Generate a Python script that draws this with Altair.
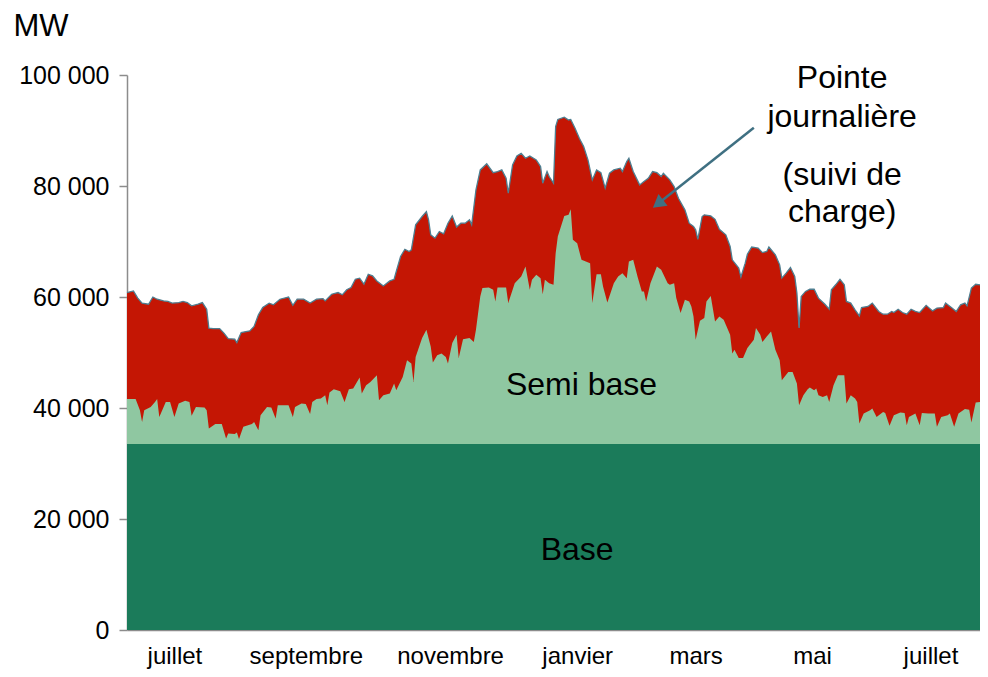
import altair as alt
import pandas as pd

FONT = "Liberation Sans"

# --- Pointe journalière (daily maximum), thousands of MW, by day index ---
pointe_jour = [0, 3, 5, 7, 10, 12, 14, 17, 19, 21, 24, 26, 28, 30, 33, 35, 37, 38, 40, 43,
               45, 47, 50, 51, 53, 57, 59, 61, 63, 66, 68, 71, 75, 77, 79, 82, 85, 88, 91, 92,
               95, 98, 100, 102, 104, 106, 108, 110, 112, 114, 116, 119, 122, 124, 125, 127, 129, 131, 132, 134,
               137, 139, 140, 141, 143, 145, 147, 149, 151, 153, 155, 157, 159, 160, 162, 164, 167, 170, 172, 174,
               176, 177, 179, 181, 183, 185, 187, 190, 192, 193, 195, 196, 198, 199, 200, 203, 205, 206, 208, 210,
               212, 214, 216, 218, 220, 222, 224, 226, 229, 230, 232, 233, 235, 238, 240, 242, 244, 246, 248, 249,
               252, 254, 256, 259, 261, 263, 264, 265, 267, 268, 271, 273, 275, 278, 280, 281, 284, 285, 287, 288,
               290, 293, 295, 297, 298, 301, 303, 304, 306, 308, 310, 311, 312, 313, 315, 317, 319, 321, 324, 326,
               327, 329, 331, 333, 334, 336, 338, 340, 341, 344, 346, 349, 351, 353, 355, 356, 358, 360, 362, 364,
               366, 368, 371, 374, 376, 379, 380, 383, 385, 387, 389, 390, 392, 394, 396]
pointe_kmw = [60.8, 61.1, 59.8, 58.9, 58.7, 60.0, 59.6, 59.3, 59.2, 58.9, 59.0, 59.2, 59.0, 58.4, 58.7, 59.0, 57.8, 54.4, 54.3, 54.3,
              53.5, 52.5, 52.4, 51.8, 53.6, 53.9, 54.7, 56.8, 58.1, 58.9, 58.6, 59.6, 60.0, 58.5, 59.6, 59.6, 58.9, 59.6, 59.7, 59.3,
              60.5, 60.8, 60.4, 61.3, 61.7, 63.2, 63.4, 62.3, 64.1, 63.8, 62.9, 62.0, 62.9, 63.2, 64.6, 67.3, 68.6, 68.2, 68.5, 73.0,
              74.5, 75.4, 73.9, 71.2, 70.6, 71.8, 71.4, 73.3, 74.6, 72.6, 73.3, 73.3, 73.9, 73.0, 79.3, 82.9, 84.0, 82.4, 82.6, 82.9,
              81.4, 78.7, 83.8, 85.4, 85.9, 85.0, 85.4, 84.7, 83.5, 80.5, 82.6, 81.7, 80.5, 90.7, 92.0, 92.4, 91.9, 92.0, 90.4, 88.6,
              87.1, 84.7, 81.1, 82.9, 82.4, 79.6, 82.3, 82.9, 83.2, 82.6, 84.4, 85.0, 82.6, 80.2, 80.8, 81.4, 82.6, 82.4, 81.7, 82.3,
              81.1, 79.9, 77.8, 75.7, 73.3, 72.7, 72.1, 70.4, 74.5, 74.8, 74.6, 74.0, 72.2, 71.2, 69.1, 66.7, 65.2, 63.6, 66.1, 67.7,
              69.0, 68.8, 68.0, 68.2, 69.0, 67.6, 65.8, 63.4, 64.3, 65.3, 63.7, 60.7, 54.4, 60.1, 61.0, 61.4, 61.4, 59.8, 58.7, 57.8,
              61.3, 62.2, 63.2, 62.2, 59.2, 58.9, 57.7, 56.6, 58.1, 58.3, 58.9, 57.4, 56.9, 56.9, 57.4, 57.2, 57.8, 57.2, 56.9, 57.8,
              57.4, 57.2, 58.5, 57.5, 58.0, 58.1, 58.9, 58.0, 57.4, 58.6, 58.9, 58.4, 61.6, 62.3, 62.2]

# --- Semi base (daily minimum), thousands of MW, by day index ---
semi_jour = [0, 4, 6, 7, 8, 11, 13, 14, 15, 18, 20, 22, 24, 27, 29, 30, 32, 36, 37, 38,
             41, 44, 46, 47, 50, 51, 52, 54, 58, 59, 61, 62, 65, 67, 69, 70, 75, 77, 78, 81,
             83, 85, 86, 88, 90, 92, 93, 94, 96, 99, 101, 103, 105, 108, 109, 111, 113, 116, 117, 119,
             122, 124, 125, 128, 130, 132, 133, 134, 137, 139, 141, 142, 144, 146, 148, 149, 151, 153, 154, 156,
             159, 161, 162, 164, 165, 168, 170, 171, 172, 174, 176, 177, 180, 183, 185, 187, 188, 190, 192, 193,
             194, 196, 198, 199, 200, 203, 205, 206, 207, 209, 211, 213, 215, 216, 218, 220, 221, 223, 226, 228,
             230, 232, 233, 235, 237, 239, 240, 241, 243, 246, 248, 251, 252, 254, 255, 257, 259, 261, 262, 263,
             264, 266, 268, 269, 271, 273, 275, 277, 278, 280, 281, 282, 284, 286, 288, 291, 292, 294, 295, 297,
             299, 301, 303, 304, 307, 309, 311, 312, 314, 316, 317, 319, 320, 321, 323, 325, 326, 328, 330, 333,
             334, 336, 338, 339, 340, 342, 345, 346, 348, 351, 352, 354, 356, 359, 361, 362, 363, 366, 368, 369,
             372, 375, 376, 378, 381, 382, 384, 386, 389, 391, 392, 394, 396]
semi_kmw = [41.6, 41.6, 39.6, 37.5, 39.6, 40.2, 41.1, 41.6, 38.4, 41.1, 41.1, 38.4, 40.8, 41.3, 41.1, 38.6, 40.2, 40.1, 39.6, 36.3,
            37.1, 37.1, 34.5, 35.4, 35.3, 35.6, 34.4, 36.6, 37.1, 37.5, 36.0, 38.7, 40.2, 40.1, 38.1, 40.5, 40.5, 38.4, 40.2, 40.8,
            40.7, 38.9, 41.1, 41.6, 41.7, 42.3, 40.5, 42.8, 43.4, 43.0, 41.1, 43.4, 43.5, 45.5, 42.6, 44.1, 44.7, 45.9, 41.4, 42.3,
            42.6, 44.4, 43.2, 45.6, 48.6, 48.0, 44.7, 49.2, 52.6, 54.1, 51.1, 48.2, 49.5, 49.8, 49.2, 48.0, 51.7, 53.2, 49.0, 52.4,
            52.6, 51.9, 54.1, 60.1, 61.6, 61.7, 61.3, 59.2, 61.7, 61.7, 61.7, 58.9, 62.5, 63.7, 65.5, 61.3, 63.1, 64.0, 63.4, 60.5,
            63.1, 62.5, 62.2, 67.9, 70.9, 74.6, 74.8, 75.8, 70.3, 69.7, 66.7, 66.4, 66.1, 58.9, 64.1, 64.1, 61.9, 59.0, 62.5, 63.7,
            64.3, 63.4, 66.4, 66.7, 63.7, 61.0, 61.0, 59.2, 62.5, 65.5, 64.9, 62.5, 62.2, 62.5, 59.8, 57.1, 59.5, 59.2, 58.3, 56.5,
            52.3, 55.7, 56.2, 59.2, 60.2, 55.6, 56.5, 55.9, 55.0, 53.2, 49.8, 50.5, 49.0, 49.0, 50.8, 52.3, 54.4, 53.2, 51.9, 52.9,
            53.8, 50.5, 48.6, 45.0, 46.5, 46.5, 44.4, 40.5, 42.3, 43.4, 43.7, 43.2, 43.5, 42.3, 42.0, 42.3, 41.1, 44.1, 45.9, 45.9,
            40.8, 42.3, 41.7, 41.1, 37.2, 39.0, 39.6, 39.9, 38.4, 39.3, 39.1, 36.8, 38.7, 39.2, 39.1, 36.9, 38.4, 39.0, 36.9, 39.1,
            39.0, 39.0, 36.6, 38.4, 38.7, 39.0, 36.6, 39.0, 39.8, 39.7, 37.4, 41.0, 41.1]

# --- Base (constant), MW ---
base_jour = [0, 396]
base_mw = [33500, 33500]

# --- Axis labels ---
mois_pos = [22, 83, 150, 209, 264, 318, 373]
mois_lab = ["juillet", "septembre", "novembre", "janvier", "mars", "mai", "juillet"]
y_ticks = [0, 20000, 40000, 60000, 80000, 100000]

# --- Annotations ---
notes_txt = ["Pointe", "journalière", "(suivi de", "charge)", "Semi base", "Base"]
notes_jour = [332, 332, 332, 332, 211, 209]
notes_mw = [99400, 92400, 82000, 75300, 44100, 14400]
fleche_jour = [291, 246.5]
fleche_mw = [90500, 76800]

pointe = pd.DataFrame({"jour": pointe_jour, "mw": [v * 1000 for v in pointe_kmw]})
semi = pd.DataFrame({"jour": semi_jour, "mw": [v * 1000 for v in semi_kmw]})
base = pd.DataFrame({"jour": base_jour, "mw": base_mw})
notes = pd.DataFrame({"jour": notes_jour, "mw": notes_mw, "txt": notes_txt})
fleche = pd.DataFrame({"jour": fleche_jour, "mw": fleche_mw})
pointe_fleche = fleche.iloc[[1]]

x_label_expr = " : ".join(
    f"datum.value == {p} ? '{l}'" for p, l in zip(mois_pos, mois_lab)
) + " : ''"

x_enc = alt.X(
    "jour:Q",
    scale=alt.Scale(domain=[0, 396], nice=False, zero=False),
    axis=alt.Axis(values=mois_pos, labelExpr=x_label_expr, ticks=False, grid=False,
                  domainColor="#8c8c8c", domainWidth=1.5, labelFontSize=24, labelFont=FONT,
                  labelColor="#000000", labelPadding=14, title=None, labelFlush=False),
)
y_enc = alt.Y(
    "mw:Q",
    scale=alt.Scale(domain=[0, 100000], nice=False),
    axis=alt.Axis(values=y_ticks,
                  labelExpr="datum.value == 0 ? '0' : format(datum.value / 1000, 'd') + ' 000'",
                  tickSize=8, tickColor="#8c8c8c", tickWidth=1.5, domainColor="#8c8c8c",
                  domainWidth=1.5, grid=False, labelFontSize=25, labelFont=FONT,
                  labelColor="#000000", labelPadding=10,
                  title="MW", titleAngle=0, titleAlign="left", titleBaseline="middle",
                  titleX=-114, titleY=-49, titleFontSize=31, titleFont=FONT,
                  titleFontWeight="normal", titleColor="#000000"),
)

red = alt.Chart(pointe).mark_area(color="#C41604", opacity=1)
edge = alt.Chart(pointe).mark_line(color="#4E7E90", strokeWidth=1.3)
green = alt.Chart(semi).mark_area(color="#8FC7A1", opacity=1)
dark = alt.Chart(base).mark_area(color="#1B7B5A", opacity=1)
text = alt.Chart(notes).mark_text(fontSize=32, font=FONT, color="#000000", align="center",
                                  baseline="middle").encode(text="txt:N")
shaft = alt.Chart(fleche).mark_line(color="#3F7082", strokeWidth=2.5)
head = alt.Chart(pointe_fleche).mark_point(shape="triangle-up", filled=True, color="#3F7082",
                                           opacity=1, size=220, angle=232)

chart = alt.layer(red, edge, green, dark, text, shaft, head).encode(
    x=x_enc, y=y_enc
).properties(
    width=853, height=555,
    autosize=alt.AutoSizeParams(type="none"),
    padding={"left": 119, "top": 67, "right": 0, "bottom": 39},
    background="white",
).configure_view(stroke=None)

chart.save("out.html", embed_options={"renderer": "svg", "actions": False})
